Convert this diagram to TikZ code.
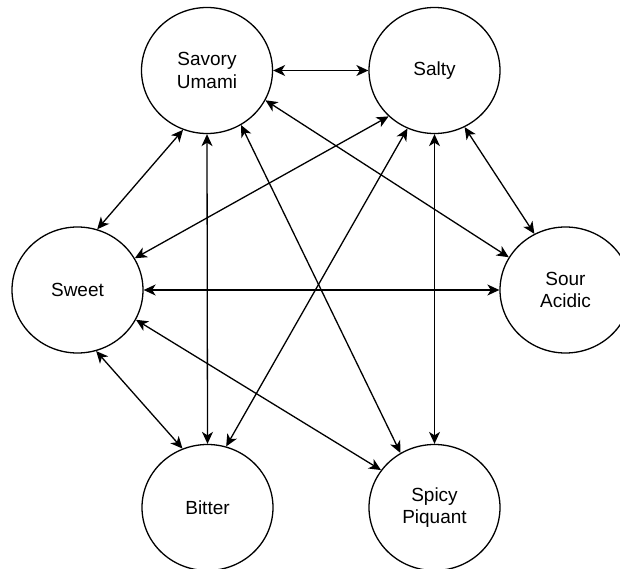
\documentclass[tikz,border=0pt]{standalone}
\usepackage{fontspec}
\setmainfont{Liberation Sans}
\usetikzlibrary{shapes.geometric,arrows.meta}
\begin{document}
\begin{tikzpicture}[x=1pt,y=-1pt,
  taste/.style={ellipse,draw=black,line width=1.3pt,minimum width=131pt,minimum height=126pt,
    inner sep=0pt,align=center,font=\fontsize{19}{22.7}\selectfont},
  link/.style={line width=1.3pt,{Stealth[length=12pt,width=11pt,inset=3.5pt]}-{Stealth[length=12pt,width=11pt,inset=3.5pt]}}]
\clip (0,0) rectangle (620,569);
% six tastes
\node[taste] (savory) at (207,70.5)   {Savory\\Umami};
\node[taste] (salty)  at (434.5,70.5) {Salty};
\node[taste] (sweet)  at (77.5,290)   {Sweet};
\node[taste] (sour)   at (565.5,290)  {Sour\\Acidic};
\node[taste] (bitter) at (207.5,507.5){Bitter};
\node[taste] (spicy)  at (434.5,507.5){Spicy\\Piquant};
% pairings
\draw[link] (savory.0)   -- (salty.180);
\draw[link] (savory.248) -- (sweet.72);
\draw[link] (savory.270) -- (bitter.90);
\draw[link] (savory.302) -- (spicy.122);
\draw[link] (savory.333) -- (sour.150);
\draw[link] (salty.225)  -- (sweet.29);
\draw[link] (salty.245)  -- (bitter.73);
\draw[link] (salty.270)  -- (spicy.90);
\draw[link] (salty.298)  -- (sour.119);
\draw[link] (sweet.0)    -- (sour.180);
\draw[link] (sweet.287)  -- (bitter.113);
\draw[link] (sweet.333)  -- (spicy.145);
\end{tikzpicture}
\end{document}
